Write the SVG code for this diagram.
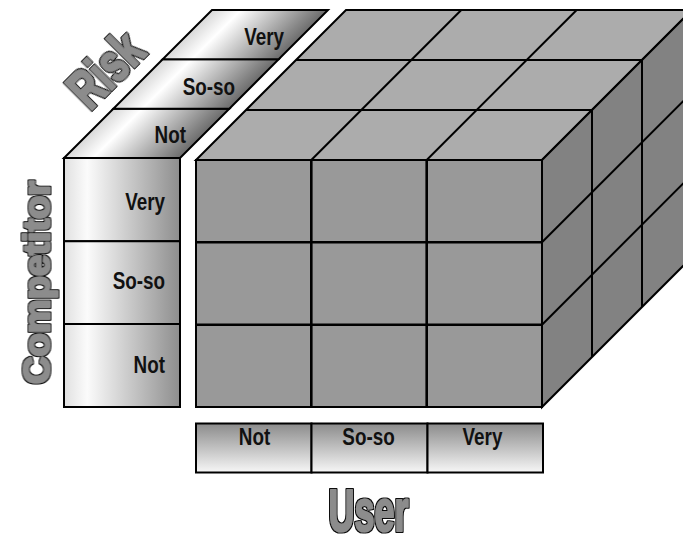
<svg xmlns="http://www.w3.org/2000/svg" width="683" height="537" viewBox="0 0 683 537">
  <defs>
    <!-- light-to-dark shading for the side scales -->
    <linearGradient id="gScaleH" x1="0" y1="0" x2="1" y2="0">
      <stop offset="0" stop-color="#e0e0e0"/>
      <stop offset="0.2" stop-color="#fbfbfb"/>
      <stop offset="1" stop-color="#8e8e8e"/>
    </linearGradient>
    <linearGradient id="gScaleTop" x1="0" y1="0" x2="1" y2="0">
      <stop offset="0" stop-color="#d8d8d8"/>
      <stop offset="0.25" stop-color="#ffffff"/>
      <stop offset="1" stop-color="#6c6c6c"/>
    </linearGradient>
    <linearGradient id="gScaleV" gradientUnits="userSpaceOnUse" x1="0" y1="423" x2="0" y2="473">
      <stop offset="0" stop-color="#8a8a8a"/>
      <stop offset="1" stop-color="#f8f8f8"/>
    </linearGradient>
    <!-- dark rim around the heavy grey axis titles -->
    <filter id="rimUser" x="-10%" y="-20%" width="120%" height="140%">
      <feMorphology in="SourceAlpha" operator="dilate" radius="2.2 1.35" result="rim"/>
      <feFlood flood-color="#111"/>
      <feComposite in2="rim" operator="in" result="rimC"/>
      <feMerge><feMergeNode in="rimC"/><feMergeNode in="SourceGraphic"/></feMerge>
    </filter>
    <filter id="rimRisk" x="-10%" y="-20%" width="120%" height="140%">
      <feMorphology in="SourceAlpha" operator="dilate" radius="1.9 1.35" result="rim"/>
      <feFlood flood-color="#111"/>
      <feComposite in2="rim" operator="in" result="rimC"/>
      <feMerge><feMergeNode in="rimC"/><feMergeNode in="SourceGraphic"/></feMerge>
    </filter>
    <filter id="rimComp" x="-10%" y="-20%" width="120%" height="140%">
      <feMorphology in="SourceAlpha" operator="dilate" radius="1.3 1.35" result="rim"/>
      <feFlood flood-color="#111"/>
      <feComposite in2="rim" operator="in" result="rimC"/>
      <feMerge><feMergeNode in="rimC"/><feMergeNode in="SourceGraphic"/></feMerge>
    </filter>
    <style>
      .edge { stroke: #000; stroke-width: 2; stroke-linejoin: miter; }
      .grid { stroke: #000; stroke-width: 2; fill: none; }
      .gridF { stroke: #000; stroke-width: 2.6; fill: none; }
      .top { fill: #acacac; }
      .front { fill: #999999; }
      .side { fill: #828282; }
      .cell { stroke: #000; stroke-width: 2; vector-effect: non-scaling-stroke; }
      .lb { font-family: "Liberation Sans", Arial, sans-serif; font-weight: bold; font-size: 23px; fill: #111; }
      .axis { font-family: "Liberation Sans", Arial, sans-serif; font-weight: bold; fill: #8c8c8c; stroke: #8c8c8c; stroke-width: 2.2; stroke-linejoin: round; }
    </style>
  </defs>

  <!-- 3x3x3 cube -->
  <g id="cube">
    <polygon class="top edge" points="196,160 542,160 692,10 346,10"/>
    <polygon class="side edge" points="542,160 692,10 692,257 542,407"/>
    <rect class="front edge" x="196" y="160" width="346" height="247"/>
    <!-- top face divisions -->
    <path class="grid" d="M246,110 H592 M296,60 H642 M311.3,160 L461.3,10 M426.7,160 L576.7,10"/>
    <!-- right face divisions -->
    <path class="grid" d="M592,110 V357 M642,60 V307 M542,242.3 L692,92.3 M542,324.7 L692,174.7"/>
    <!-- front face divisions -->
    <path class="gridF" d="M311.3,160 V407 M426.7,160 V407 M196,242.3 H542 M196,324.7 H542"/>
  </g>

  <!-- Risk scale (top of the competitor column) -->
  <g id="risk-scale">
    <g transform="translate(64,158) skewX(-45)">
      <rect class="cell" x="0" y="-49.33" width="116" height="49.33" fill="url(#gScaleTop)"/>
      <rect class="cell" x="0" y="-98.67" width="116" height="49.34" fill="url(#gScaleTop)"/>
      <rect class="cell" x="0" y="-148" width="116" height="49.33" fill="url(#gScaleTop)"/>
    </g>
    <text class="lb" text-anchor="end" transform="matrix(0.82 0 0 1 186 143)">Not</text>
    <text class="lb" text-anchor="end" transform="matrix(0.82 0 0 1 235 95)">So-so</text>
    <text class="lb" text-anchor="end" transform="matrix(0.82 0 0 1 284 45)">Very</text>
  </g>

  <!-- Competitor scale -->
  <g id="competitor-scale">
    <rect class="cell" x="64" y="158" width="116" height="83.3" fill="url(#gScaleH)"/>
    <rect class="cell" x="64" y="241.3" width="116" height="82.7" fill="url(#gScaleH)"/>
    <rect class="cell" x="64" y="324" width="116" height="83" fill="url(#gScaleH)"/>
    <text class="lb" text-anchor="end" transform="matrix(0.82 0 0 1 165 210)">Very</text>
    <text class="lb" text-anchor="end" transform="matrix(0.82 0 0 1 165 289)">So-so</text>
    <text class="lb" text-anchor="end" transform="matrix(0.82 0 0 1 165 373)">Not</text>
  </g>

  <!-- User scale -->
  <g id="user-scale">
    <rect class="cell" x="196" y="423.5" width="115.5" height="49" fill="url(#gScaleV)"/>
    <rect class="cell" x="311.5" y="423.5" width="116" height="49" fill="url(#gScaleV)"/>
    <rect class="cell" x="427.5" y="423.5" width="115.5" height="49" fill="url(#gScaleV)"/>
    <text class="lb" text-anchor="middle" transform="matrix(0.82 0 0 1 254.5 445)">Not</text>
    <text class="lb" text-anchor="middle" transform="matrix(0.82 0 0 1 368.5 445)">So-so</text>
    <text class="lb" text-anchor="middle" transform="matrix(0.82 0 0 1 482.5 445)">Very</text>
  </g>

  <!-- axis titles -->
  <g id="axis-risk">
    <text class="axis" font-size="55" filter="url(#rimRisk)" transform="translate(90,111.5) rotate(-45) scale(0.7,1)">Risk</text>
  </g>
  <g id="axis-competitor">
    <text class="axis" font-size="37" filter="url(#rimComp)" transform="translate(49.5,384) rotate(-90) scale(1.03,1)">Competitor</text>
  </g>
  <g id="axis-user">
    <text class="axis" font-size="60" filter="url(#rimUser)" text-anchor="middle" transform="translate(368.5,531) scale(0.6,1)">User</text>
  </g>
</svg>
